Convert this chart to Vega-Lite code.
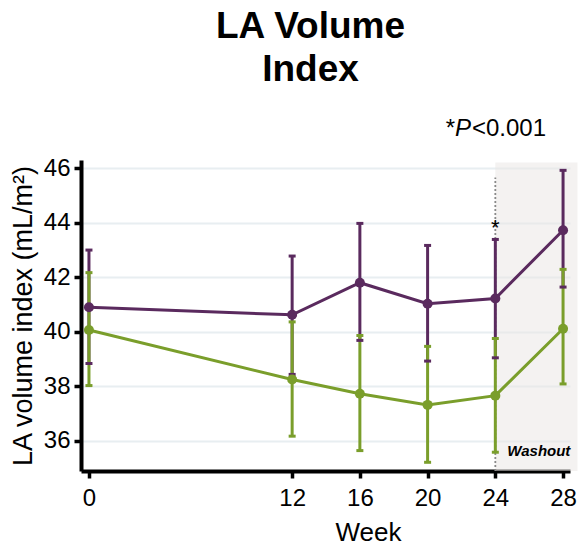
{
  "$schema": "https://vega.github.io/schema/vega-lite/v6.json",
  "autosize": "none",
  "width": 489,
  "height": 311,
  "padding": {"left": 81, "top": 160, "right": 9, "bottom": 75},
  "background": "white",
  "config": {
    "view": {"stroke": null},
    "font": "Liberation Sans",
    "axis": {
      "domainColor": "black",
      "domainWidth": 4,
      "tickColor": "black",
      "tickWidth": 3.5,
      "tickSize": 7,
      "labelFont": "Liberation Sans",
      "titleFont": "Liberation Sans",
      "labelColor": "black",
      "titleColor": "black",
      "labelFontSize": 24,
      "titleFontSize": 27,
      "titleFontWeight": "normal"
    }
  },
  "title": {
    "text": ["LA Volume", "Index"],
    "fontSize": 37,
    "fontWeight": "bold",
    "font": "Liberation Sans",
    "color": "black",
    "anchor": "middle",
    "lineHeight": 43,
    "offset": 28,
    "dx": -15
  },
  "datasets": {
    "main": [
      {"week": 0, "group": "Group 1", "mean": 40.9, "lo": 38.83, "hi": 43.0},
      {"week": 12, "group": "Group 1", "mean": 40.62, "lo": 38.43, "hi": 42.78},
      {"week": 16, "group": "Group 1", "mean": 41.8, "lo": 39.68, "hi": 43.98},
      {"week": 20, "group": "Group 1", "mean": 41.03, "lo": 38.92, "hi": 43.17},
      {"week": 24, "group": "Group 1", "mean": 41.22, "lo": 39.04, "hi": 43.39},
      {"week": 28, "group": "Group 1", "mean": 43.73, "lo": 41.64, "hi": 45.93},
      {"week": 0, "group": "Group 2", "mean": 40.06, "lo": 38.02, "hi": 42.17},
      {"week": 12, "group": "Group 2", "mean": 38.24, "lo": 36.16, "hi": 40.36},
      {"week": 16, "group": "Group 2", "mean": 37.72, "lo": 35.63, "hi": 39.86},
      {"week": 20, "group": "Group 2", "mean": 37.31, "lo": 35.2, "hi": 39.46},
      {"week": 24, "group": "Group 2", "mean": 37.65, "lo": 35.57, "hi": 39.75},
      {"week": 28, "group": "Group 2", "mean": 40.11, "lo": 38.08, "hi": 42.29}
    ]
  },
  "layer": [
    {
      "data": {"values": [{"start": 24, "end": 28.85, "bottom": 34.88, "top": 46.22}]},
      "mark": {"type": "rect", "color": "#e9e6e3", "opacity": 0.5, "clip": false},
      "encoding": {
        "x": {"field": "start", "type": "quantitative", "scale": {"domain": [-0.47, 28.41], "nice": false, "zero": false},
          "axis": {"values": [0, 12, 16, 20, 24, 28], "title": "Week", "grid": false, "labelPadding": 8, "titlePadding": 9, "titleFontSize": 26, "titleX": 287}},
        "x2": {"field": "end"},
        "y": {"field": "bottom", "type": "quantitative", "scale": {"domain": [34.88, 46.31], "nice": false, "zero": false},
          "axis": {"values": [36, 38, 40, 42, 44, 46], "title": "LA volume index (mL/m²)", "grid": true, "gridColor": "#e8eef1", "gridWidth": 2, "labelPadding": 4, "titlePadding": 6}},
        "y2": {"field": "top"}
      }
    },
    {
      "data": {"values": [{"week": 24, "top": 45.67, "bottom": 34.88}]},
      "mark": {"type": "rule", "color": "#8a8a8a", "strokeWidth": 1.8, "strokeDash": [2, 2]},
      "encoding": {
        "x": {"field": "week", "type": "quantitative"},
        "y": {"field": "bottom", "type": "quantitative"},
        "y2": {"field": "top"}
      }
    },
    {
      "data": {"name": "main"},
      "layer": [
        {
          "mark": {"type": "rule", "strokeWidth": 3},
          "encoding": {
            "x": {"field": "week", "type": "quantitative"},
            "y": {"field": "lo", "type": "quantitative"},
            "y2": {"field": "hi"},
            "color": {"field": "group", "type": "nominal", "scale": {"domain": ["Group 1", "Group 2"], "range": ["#5a2a5e", "#7a9e2b"]}, "legend": null}
          }
        },
        {
          "mark": {"type": "line", "strokeWidth": 3},
          "encoding": {
            "x": {"field": "week", "type": "quantitative"},
            "y": {"field": "mean", "type": "quantitative"},
            "color": {"field": "group", "type": "nominal", "legend": null}
          }
        },
        {
          "mark": {"type": "tick", "orient": "horizontal", "size": 7, "thickness": 3, "opacity": 1},
          "encoding": {
            "x": {"field": "week", "type": "quantitative"},
            "y": {"field": "lo", "type": "quantitative"},
            "color": {"field": "group", "type": "nominal", "legend": null}
          }
        },
        {
          "mark": {"type": "tick", "orient": "horizontal", "size": 7, "thickness": 3, "opacity": 1},
          "encoding": {
            "x": {"field": "week", "type": "quantitative"},
            "y": {"field": "hi", "type": "quantitative"},
            "color": {"field": "group", "type": "nominal", "legend": null}
          }
        },
        {
          "mark": {"type": "point", "filled": true, "size": 100, "opacity": 1},
          "encoding": {
            "x": {"field": "week", "type": "quantitative"},
            "y": {"field": "mean", "type": "quantitative"},
            "color": {"field": "group", "type": "nominal", "legend": null}
          }
        }
      ]
    },
    {
      "data": {"values": [{"x": 24, "y": 43.57, "label": "*"}]},
      "mark": {"type": "text", "fontSize": 22, "align": "center", "baseline": "alphabetic", "color": "black"},
      "encoding": {
        "x": {"field": "x", "type": "quantitative"},
        "y": {"field": "y", "type": "quantitative"},
        "text": {"field": "label"}
      }
    },
    {
      "data": {"values": [{"x": 26.57, "y": 35.42, "label": "Washout"}]},
      "mark": {"type": "text", "fontSize": 15, "fontWeight": "bold", "fontStyle": "italic", "align": "center", "baseline": "alphabetic", "color": "black"},
      "encoding": {
        "x": {"field": "x", "type": "quantitative"},
        "y": {"field": "y", "type": "quantitative"},
        "text": {"field": "label"}
      }
    },
    {
      "data": {"values": [{"x": 21.62, "y": 47.18, "label": "*"}]},
      "mark": {"type": "text", "fontSize": 24, "align": "right", "baseline": "alphabetic", "color": "black", "clip": false},
      "encoding": {
        "x": {"field": "x", "type": "quantitative"},
        "y": {"field": "y", "type": "quantitative"},
        "text": {"field": "label"}
      }
    },
    {
      "data": {"values": [{"x": 21.62, "y": 47.18, "label": "P"}]},
      "mark": {"type": "text", "fontSize": 24, "fontStyle": "italic", "align": "left", "baseline": "alphabetic", "color": "black", "clip": false},
      "encoding": {
        "x": {"field": "x", "type": "quantitative"},
        "y": {"field": "y", "type": "quantitative"},
        "text": {"field": "label"}
      }
    },
    {
      "data": {"values": [{"x": 22.62, "y": 47.18, "label": "<0.001"}]},
      "mark": {"type": "text", "fontSize": 24, "align": "left", "baseline": "alphabetic", "color": "black", "clip": false},
      "encoding": {
        "x": {"field": "x", "type": "quantitative"},
        "y": {"field": "y", "type": "quantitative"},
        "text": {"field": "label"}
      }
    }
  ]
}
